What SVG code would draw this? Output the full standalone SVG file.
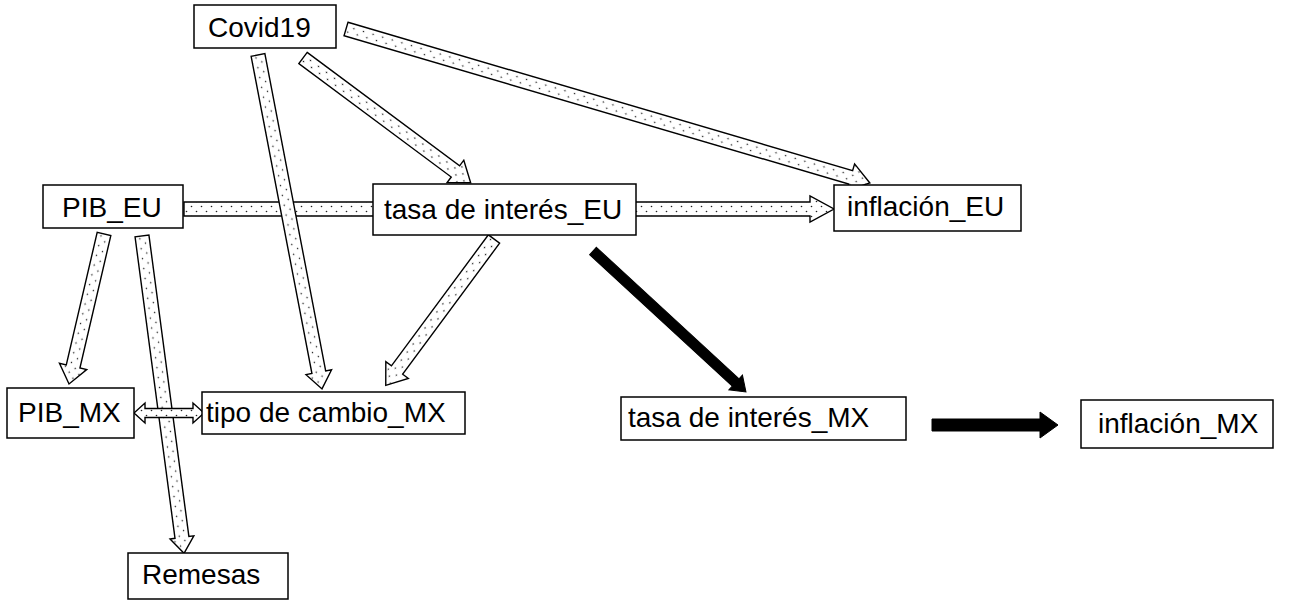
<svg xmlns="http://www.w3.org/2000/svg" width="1299" height="616" viewBox="0 0 1299 616">
<style>
.box{fill:#fff;stroke:#000;stroke-width:1.5}
.lbl{font-family:"Liberation Sans",Arial,sans-serif;font-size:28px;fill:#000}
.dot{fill:url(#dots);stroke:#000;stroke-width:1.4;stroke-linejoin:miter}
.blk{fill:#000;stroke:#000;stroke-width:1}
</style>
<defs>
<pattern id="dots" width="10" height="10" patternUnits="userSpaceOnUse">
<rect width="10" height="10" fill="#fff"/>
<circle cx="2.5" cy="2.5" r="0.8" fill="#222"/>
<circle cx="7.5" cy="7.5" r="0.8" fill="#222"/>
</pattern>
</defs>
<rect width="1299" height="616" fill="#fff"/>
<g id="connectors">
<polygon class="dot" transform="translate(184,209)" points="0,-7 626,-7 626,-13 650,0 626,13 626,7 0,7"/>
<polygon class="dot" transform="translate(258,55) rotate(79.15)" points="0,-7 323,-7 323,-13 340,0 323,13 323,7 0,7"/>
<polygon class="dot" transform="translate(303,58) rotate(36.65)" points="0,-7 190,-7 190,-14 209,0 190,14 190,7 0,7"/>
<polygon class="dot" transform="translate(346,29) rotate(16.38)" points="0,-7 526,-7 526,-14 546,0 526,14 526,7 0,7"/>
<polygon class="dot" transform="translate(494,239) rotate(126.49)" points="0,-7 163,-7 163,-14 182,0 163,14 163,7 0,7"/>
<polygon class="dot" transform="translate(104,234) rotate(103.13)" points="0,-7 136,-7 136,-14 154,0 136,14 136,7 0,7"/>
<polygon class="dot" transform="translate(142,236) rotate(82.45)" points="0,-7 304,-7 304,-12 320,0 304,12 304,7 0,7"/>
<polygon class="dot" transform="translate(134,413)" points="0,0 11,-10 11,-4.5 59,-4.5 59,-10 70,0 59,10 59,4.5 11,4.5 11,10"/>
<polygon class="blk" transform="translate(593,251) rotate(42.66)" points="0,-5 194,-5 194,-10 208,0 194,10 194,5 0,5"/>
<polygon class="blk" transform="translate(932,425)" points="0,-6 108,-6 108,-13 126,0 108,13 108,6 0,6"/>
</g>
<g id="node-covid19">
<rect class="box" x="194" y="5" width="142" height="43"/>
<text class="lbl" x="208" y="37">Covid19</text>
</g>
<g id="node-pib-eu">
<rect class="box" x="43" y="185" width="140" height="43"/>
<text class="lbl" x="62" y="217">PIB_EU</text>
</g>
<g id="node-tasa-eu">
<rect class="box" x="373" y="184" width="263" height="51"/>
<text class="lbl" x="384" y="219">tasa de interés_EU</text>
</g>
<g id="node-inflacion-eu">
<rect class="box" x="834" y="185" width="187" height="46"/>
<text class="lbl" x="847" y="216">inflación_EU</text>
</g>
<g id="node-pib-mx">
<rect class="box" x="7" y="388" width="127" height="50"/>
<text class="lbl" x="18" y="422">PIB_MX</text>
</g>
<g id="node-tipo-cambio-mx">
<rect class="box" x="202" y="392" width="263" height="42"/>
<text class="lbl" x="206" y="422">tipo de cambio_MX</text>
</g>
<g id="node-tasa-mx">
<rect class="box" x="621" y="397" width="285" height="43"/>
<text class="lbl" x="628" y="427">tasa de interés_MX</text>
</g>
<g id="node-inflacion-mx">
<rect class="box" x="1081" y="400" width="192" height="48"/>
<text class="lbl" x="1098" y="433">inflación_MX</text>
</g>
<g id="node-remesas">
<rect class="box" x="128" y="553" width="160" height="46"/>
<text class="lbl" x="142" y="584">Remesas</text>
</g>
</svg>
